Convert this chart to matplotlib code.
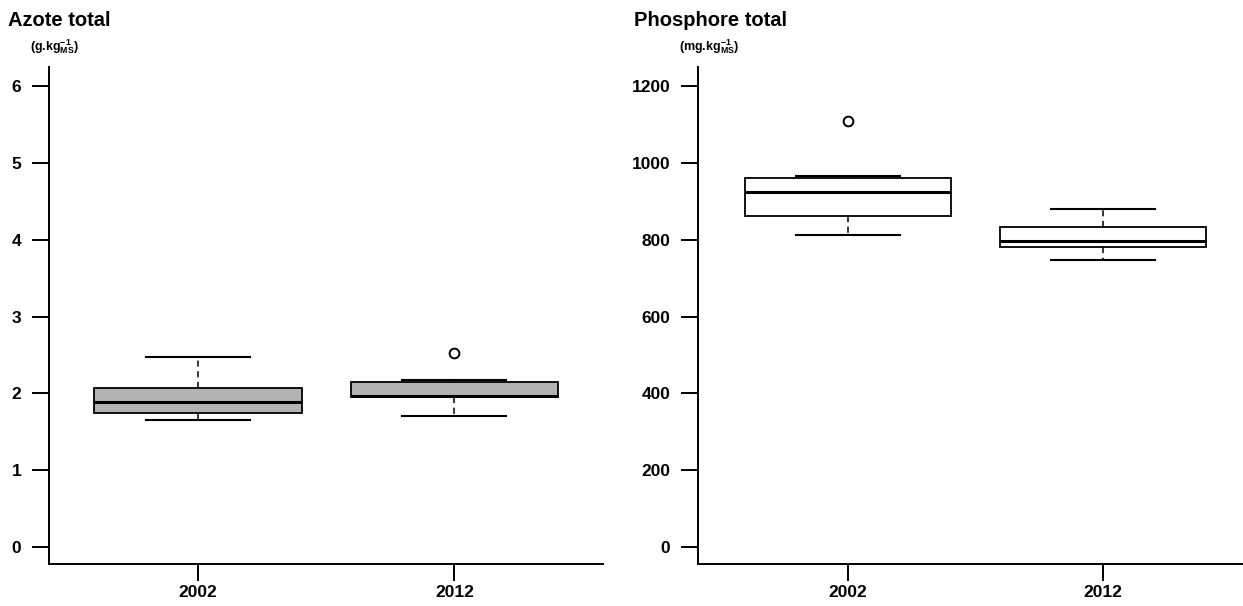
import matplotlib
matplotlib.use("Agg")
import matplotlib.pyplot as plt

# 年份与五数概括（下须、Q1、中位数、Q3、上须）+ 离群点
years = ["2002", "2012"]

azote_whislo = [1.65, 1.71]
azote_q1 = [1.74, 1.95]
azote_med = [1.89, 1.96]
azote_q3 = [2.07, 2.15]
azote_whishi = [2.47, 2.17]
azote_fliers = [[], [2.53]]

phos_whislo = [812, 747]
phos_q1 = [862, 781]
phos_med = [924, 797]
phos_q3 = [961, 833]
phos_whishi = [966, 880]
phos_fliers = [[1109], []]

azote_ticks = [0, 1, 2, 3, 4, 5, 6]
phos_ticks = [0, 200, 400, 600, 800, 1000, 1200]

plt.rcParams["font.family"] = ["Liberation Sans", "DejaVu Sans"]
plt.rcParams["font.weight"] = "bold"
plt.rcParams["mathtext.fontset"] = "custom"
plt.rcParams["mathtext.rm"] = "Liberation Sans:bold"
plt.rcParams["mathtext.it"] = "Liberation Sans:bold"
plt.rcParams["mathtext.bf"] = "Liberation Sans:bold"

W, H = 1243, 606
fig = plt.figure(figsize=(W / 100, H / 100), dpi=100)


def make_stats(lo, q1, med, q3, hi, fl):
    return [dict(whislo=lo[i], q1=q1[i], med=med[i], q3=q3[i], whishi=hi[i],
                 fliers=fl[i], label=years[i]) for i in range(len(years))]


def panel(rect, stats, fill, ticks, ylim, xlim):
    ax = fig.add_axes(rect)
    ax.bxp(stats, positions=[1, 2], widths=0.81, patch_artist=True, showfliers=True,
           boxprops=dict(facecolor=fill, edgecolor="black", linewidth=1.3),
           medianprops=dict(color="black", linewidth=2.2),
           whiskerprops=dict(color="black", linewidth=1.1, linestyle=(0, (4, 3))),
           capprops=dict(color="black", linewidth=1.5),
           capwidths=0.405,
           flierprops=dict(marker="o", markerfacecolor="none", markeredgecolor="black",
                           markersize=7, markeredgewidth=1.4))
    ax.set_xlim(*xlim)
    ax.set_ylim(*ylim)
    ax.set_yticks(ticks)
    ax.set_xticks([1, 2])
    ax.set_xticklabels(years)
    for s in ("top", "right"):
        ax.spines[s].set_visible(False)
    for s in ("left", "bottom"):
        ax.spines[s].set_linewidth(1.4)
    ax.tick_params(axis="y", length=12, width=1.4, pad=8, labelsize=12.5)
    ax.tick_params(axis="x", length=12, width=1.4, pad=3, labelsize=12.5)
    return ax


bottom = (H - 564) / H
height = (564 - 67) / H

panel([49 / W, bottom, (603 - 49) / W, height],
      make_stats(azote_whislo, azote_q1, azote_med, azote_q3, azote_whishi, azote_fliers),
      "#b3b3b3", azote_ticks, (-0.221, 6.25), (0.418, 2.58))

panel([698 / W, bottom, (W - 698) / W, height],
      make_stats(phos_whislo, phos_q1, phos_med, phos_q3, phos_whishi, phos_fliers),
      "white", phos_ticks, (-44.3, 1250), (0.412, 2.549))

# 标题与单位
fig.text(8 / W, 1 - 20 / H, "Azote total", fontsize=14.5, fontweight="bold", va="center")
fig.text(30 / W, 1 - 47 / H, r"(g.kg$_{MS}^{-1}$)", fontsize=9, fontweight="bold", va="center")
fig.text(634 / W, 1 - 20 / H, "Phosphore total", fontsize=14.5, fontweight="bold", va="center")
fig.text(679 / W, 1 - 47 / H, r"(mg.kg$_{MS}^{-1}$)", fontsize=9, fontweight="bold", va="center")

fig.savefig("out.png", dpi=100)
